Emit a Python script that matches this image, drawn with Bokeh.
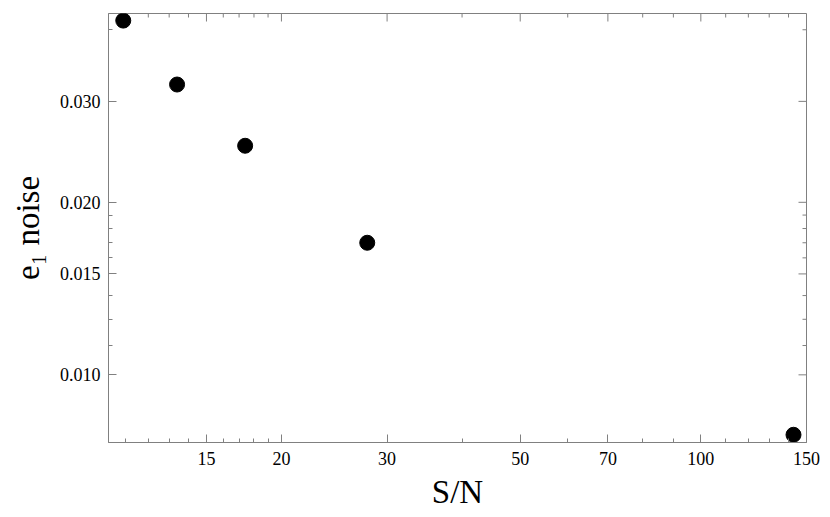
import math
from bokeh.plotting import figure
from bokeh.models import Range1d, FixedTicker, PrintfTickFormatter
from bokeh.embed import file_html
from bokeh.resources import INLINE

# data
sn = [10.9, 13.4, 17.4, 27.8, 142.7]
e1_noise = [0.0415, 0.0321, 0.0251, 0.0170, 0.00786]

x_major = [15, 20, 30, 50, 70, 100, 150]
x_minor = [11, 12, 13, 14, 16, 17, 18, 19, 40, 60, 80, 90, 110, 120, 130, 140]
y_major = [0.010, 0.015, 0.020, 0.030]
y_minor = [0.01125, 0.0125, 0.01375, 0.016, 0.017, 0.018, 0.019, 0.04]

FONT = "Liberation Serif"
GRAY = "#808080"

x_range = Range1d(10.3, 150)
y_range = Range1d(0.00762, 0.0427)

p = figure(width=822, height=514, x_axis_type="log", y_axis_type="log",
           x_range=x_range, y_range=y_range,
           output_backend="svg", toolbar_location=None,
           min_border_left=108, min_border_right=16, min_border_top=13,
           min_border_bottom=72)

p.grid.visible = False
p.outline_line_color = GRAY
p.background_fill_color = "white"
p.border_fill_color = "white"

p.xaxis.ticker = FixedTicker(ticks=x_major, minor_ticks=x_minor)
p.yaxis.ticker = FixedTicker(ticks=y_major, minor_ticks=y_minor)
p.xaxis.formatter = PrintfTickFormatter(format="%d")
p.yaxis.formatter = PrintfTickFormatter(format="%.3f")

p.xaxis.axis_label = "S/N"
p.yaxis.axis_label = "e\u2081 noise"

for ax in list(p.xaxis) + list(p.yaxis):
    ax.axis_line_color = GRAY
    ax.major_tick_line_color = GRAY
    ax.minor_tick_line_color = GRAY
    ax.major_tick_in = 8
    ax.major_tick_out = 0
    ax.minor_tick_in = 4
    ax.minor_tick_out = 0
    ax.major_label_text_font = FONT
    ax.major_label_text_font_size = "18px"
    ax.major_label_text_color = "black"
    ax.axis_label_text_font = FONT
    ax.axis_label_text_font_size = "33px"
    ax.axis_label_text_font_style = "normal"
    ax.axis_label_text_color = "black"

for ax in p.xaxis:
    ax.major_label_standoff = 9
    ax.axis_label_standoff = 6
for ax in p.yaxis:
    ax.major_label_standoff = 8
    ax.axis_label_standoff = 11

# mirrored ticks on the top and right edges of the frame (no labels)
def top_ticks(vals, length):
    p.ray(x=vals, y=[y_range.end] * len(vals), length=length,
          angle=-math.pi / 2, length_units="screen", line_color=GRAY, line_width=1)

def right_ticks(vals, length):
    p.ray(x=[x_range.end] * len(vals), y=vals, length=length,
          angle=math.pi, length_units="screen", line_color=GRAY, line_width=1)

top_ticks(x_major, 8)
top_ticks(x_minor, 4)
right_ticks(y_major, 8)
right_ticks(y_minor, 4)

p.scatter(sn, e1_noise, size=15, color="black")

open("out.html", "w").write(file_html(p, INLINE))
